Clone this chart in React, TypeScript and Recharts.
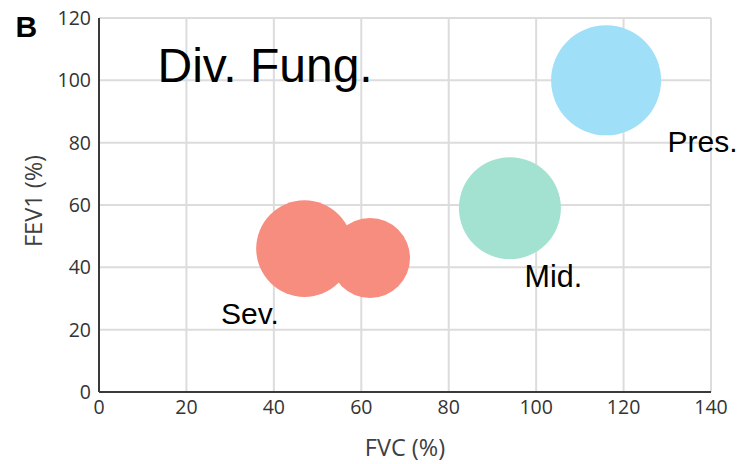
import React from 'react';
import { ScatterChart, Scatter, XAxis, YAxis, ZAxis, CartesianGrid } from 'recharts';

const xTicks = [0, 20, 40, 60, 80, 100, 120, 140];
const yTicks = [0, 20, 40, 60, 80, 100, 120];

// x = FVC (%), y = FEV1 (%), z = relative bubble size
const sevData = [
  { x: 47, y: 46, z: 23.3 },
  { x: 62, y: 43, z: 16 },
];
const midData = [{ x: 94, y: 59, z: 26 }];
const presData = [{ x: 116, y: 100, z: 30.25 }];

const W = 740;
const H = 464;

const tickStyle = { fontFamily: 'Open Sans', fontSize: 19.5, fill: '#333333' };
const titleStyle = { fontFamily: 'Open Sans', fontSize: 23.5, fill: '#404040' };

export default function App() {
  return (
    <div style={{ position: 'absolute', left: 0, top: 0, width: W, height: H, overflow: 'hidden' }}>
      <ScatterChart width={W} height={H} margin={{ top: 18, right: 29, bottom: 0, left: 0 }}>
        <CartesianGrid stroke="#dcdcdc" strokeWidth={2} />
        <XAxis
          type="number"
          dataKey="x"
          domain={[0, 140]}
          ticks={xTicks}
          height={72}
          tickLine={false}
          axisLine={{ stroke: '#3a3a3a', strokeWidth: 2 }}
          tick={tickStyle}
          interval={0}
          label={{ value: 'FVC (%)', position: 'insideBottom', offset: 8, style: titleStyle }}
        />
        <YAxis
          type="number"
          dataKey="y"
          domain={[0, 120]}
          ticks={yTicks}
          width={99}
          tickLine={false}
          axisLine={{ stroke: '#3a3a3a', strokeWidth: 2 }}
          tick={tickStyle}
          interval={0}
          label={{ value: 'FEV1 (%)', position: 'center', angle: -90, dx: -16, dy: -4, style: titleStyle }}
        />
        <ZAxis type="number" dataKey="z" domain={[0, 100]} range={[0, 31416]} />
        <Scatter data={sevData} fill="#f68d7e" isAnimationActive={false} />
        <Scatter data={midData} fill="#a3e1d0" isAnimationActive={false} />
        <Scatter data={presData} fill="#9fdff7" isAnimationActive={false} />
      </ScatterChart>
      <svg
        width={W}
        height={H}
        style={{ position: 'absolute', left: 0, top: 0, pointerEvents: 'none' }}
      >
        <g fontFamily="'Liberation Sans', Arial, sans-serif" fill="#000000">
          <text x={15.5} y={36.5} fontSize={30} fontWeight="bold">B</text>
          <text x={157.5} y={81.7} fontSize={48}>Div. Fung.</text>
          <text x={221} y={324} fontSize={30}>Sev.</text>
          <text x={524.5} y={287.3} fontSize={30.5}>Mid.</text>
          <text x={667.5} y={151.7} fontSize={30}>Pres.</text>
        </g>
      </svg>
    </div>
  );
}
